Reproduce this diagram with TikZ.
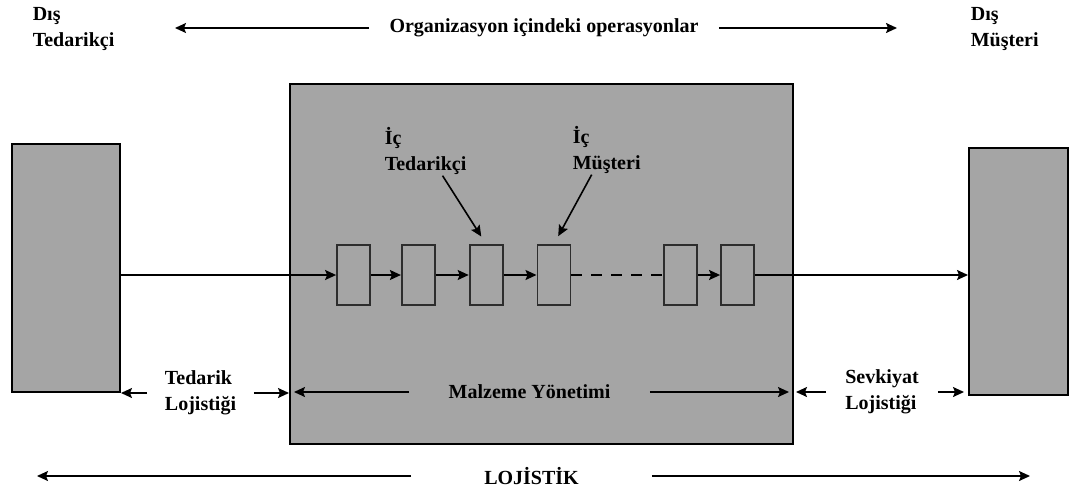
\documentclass[tikz,border=0pt]{standalone}
\usepackage{fontspec}
\setmainfont{Liberation Serif}
\usepackage{xcolor}
\usetikzlibrary{positioning, arrows.meta}

\definecolor{panelgray}{RGB}{165,165,165}
\definecolor{stageline}{RGB}{45,45,45}

\begin{document}
\begin{tikzpicture}[x=1pt, y=-1pt, >={Stealth[length=11pt, width=10pt, inset=2pt]}, line width=1.6pt,
    every node/.style={font=\bfseries\fontsize{20}{26.5}\selectfont},
    panel/.style={draw, line width=2pt, fill=panelgray, inner sep=0pt, anchor=north west},
    stage/.style={draw=stageline, line width=1.8pt, minimum width=33pt, minimum height=60pt, inner sep=0pt},
    lbl/.style={align=left, inner sep=0pt}]
    \useasboundingbox (0,0) rectangle (1076,490);
    % suppliers, organisation, customers
    \node[panel, minimum width=108pt, minimum height=248pt] (sup) at (11,143) {};
    \node[panel, minimum width=503pt, minimum height=360pt] (org) at (289,83) {};
    \node[panel, minimum width=99pt, minimum height=247pt] (cus) at (968,147) {};
    % internal operations
    \node[stage] (s1) at (353.5,275) {};
    \node[stage, right=30pt of s1] (s2) {};
    \node[stage, right=33pt of s2] (s3) {};
    \node[stage, right=33pt of s3] (s4) {};
    \node[stage, right=92pt of s4] (s5) {};
    \node[stage, right=22pt of s5] (s6) {};
    % labels
    \node[lbl, anchor=west] (dsup) at (32,29) {Dış\\Tedarikçi};
    \node[lbl, anchor=west] (dcus) at (970,29) {Dış\\Müşteri};
    \node[inner sep=0pt, minimum width=348pt] (ops) at (544,28) {Organizasyon içindeki operasyonlar};
    \node[lbl, anchor=west] (isup) at (384,151) {İç\\Tedarikçi};
    \node[lbl, anchor=west] (icus) at (572,150) {İç\\Müşteri};
    \node[lbl, minimum width=105pt] (tlog) at (200.5,393) {Tedarik\\Lojistiği};
    \node[inner sep=0pt, minimum width=239pt] (mgmt) at (529.5,392) {Malzeme Yönetimi};
    \node[lbl, minimum width=110pt] (slog) at (882,392) {Sevkiyat\\Lojistiği};
    \node[inner sep=0pt, minimum width=239pt] (log) at (531.5,476) {LOJİSTİK};
    \coordinate (opsL) at (175,28);
    \coordinate (opsR) at (897,28);
    \coordinate (logL) at (37,476);
    \coordinate (logR) at (1030,476);

    % material flow
    \path[->] (sup.east |- s1) edge (s1)
              (s1) edge (s2)
              (s2) edge (s3)
              (s3) edge (s4)
              (s4) edge[-, dash pattern=on 11pt off 9pt] (s5)
              (s5) edge (s6)
              (s6) edge (s6 -| cus.west)
              ([xshift=17pt]isup.south) edge[shorten >=9pt] (s3.north)
              ([xshift=-15pt]icus.south) edge[shorten >=9pt] (s4.north);
    % spans
    \path[->] (ops.west) edge (opsL)
              (ops.east) edge (opsR)
              (tlog.west) edge (tlog.west -| sup.east)
              (tlog.east) edge (tlog.east -| org.west)
              (mgmt.west) edge[shorten >=5pt] (mgmt.west -| org.west)
              (mgmt.east) edge[shorten >=5pt] (mgmt.east -| org.east)
              (slog.west) edge[shorten >=2pt] (slog.west -| org.east)
              (slog.east) edge[shorten >=4pt] (slog.east -| cus.west)
              (log.west) edge (logL)
              (log.east) edge (logR);
\end{tikzpicture}
\end{document}
